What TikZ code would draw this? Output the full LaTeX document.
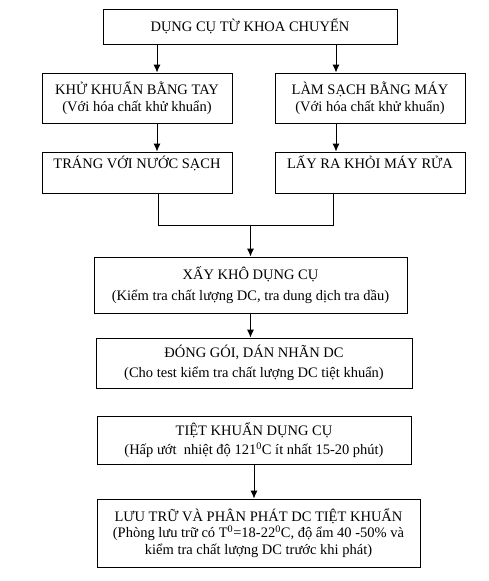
\documentclass[tikz,border=0pt]{standalone}
\usepackage{fontspec}
\setmainfont{Liberation Serif}
\usetikzlibrary{arrows.meta}
\begin{document}
\begin{tikzpicture}[x=1pt,y=-1pt,
  hop/.style={draw,line width=0.9pt,align=center,inner sep=2pt,
    font=\fontsize{14.5}{16.5}\selectfont},
  arr/.style={line width=0.9pt,-{Latex[length=8pt,width=7pt]}}]
  \useasboundingbox (0,0) rectangle (488,581);
  % top box
  \node[hop,minimum width=294,minimum height=35] (dungcu) at (250,26.5) {DỤNG CỤ TỪ KHOA CHUYỂN};
  % two ways of cleaning
  \node[hop,minimum width=190,minimum height=50] (khutay) at (137,98) {KHỬ KHUẨN BẰNG TAY\\(Với hóa chất khử khuẩn)};
  \node[hop,minimum width=190,minimum height=50] (lammay) at (370,98) {LÀM SẠCH BẰNG MÁY\\(Với hóa chất khử khuẩn)};
  \node[hop,minimum width=190,minimum height=41] (trang) at (137,172.5) {TRÁNG VỚI NƯỚC SẠCH\\ \strut};
  \node[hop,minimum width=190,minimum height=41] (layra) at (370,172.5) {LẤY RA KHỎI MÁY RỬA\\ \strut};
  % common steps
  \node[hop,minimum width=313,minimum height=56] (xay) at (250.5,285) {XẤY KHÔ DỤNG CỤ\\[5pt](Kiểm tra chất lượng DC, tra dung dịch tra dầu)};
  \node[hop,minimum width=316,minimum height=50] (donggoi) at (254,363) {ĐÓNG GÓI, DÁN NHÃN DC\\[3pt](Cho test kiểm tra chất lượng DC tiệt khuẩn)};
  \node[hop,minimum width=314,minimum height=48] (tietkhuan) at (254,440) {TIỆT KHUẨN DỤNG CỤ\\[3pt](Hấp ướt\ \ nhiệt độ 121\textsuperscript{0}C ít nhất 15-20 phút)};
  \node[hop,minimum width=323,minimum height=68] (luutru) at (258.5,533) {LƯU TRỮ VÀ PHÂN PHÁT DC TIỆT KHUẨN\\(Phòng lưu trữ có T\textsuperscript{0}=18-22\textsuperscript{0}C, độ ẩm 40 -50\% và\\kiểm tra chất lượng DC trước khi phát)};
  % connectors
  \draw[arr] ([xshift=-93pt]dungcu.south) -- ([xshift=20pt]khutay.north);
  \draw[arr] ([xshift=86pt]dungcu.south) -- ([xshift=-34pt]lammay.north);
  \draw[arr] ([xshift=20pt]khutay.south) -- ([xshift=20pt]trang.north);
  \draw[arr] ([xshift=-34pt]lammay.south) -- ([xshift=-34pt]layra.north);
  \coordinate (noi) at ([yshift=31pt]xay.north);
  \draw[line width=0.9pt] ([xshift=21pt]trang.south) |- (noi) -| ([xshift=-37pt]layra.south);
  \draw[arr] (noi) -- (xay.north);
  \draw[arr] (xay.south) -- (xay.south |- donggoi.north);
  \draw[arr] (tietkhuan.south) -- (tietkhuan.south |- luutru.north);
\end{tikzpicture}
\end{document}
